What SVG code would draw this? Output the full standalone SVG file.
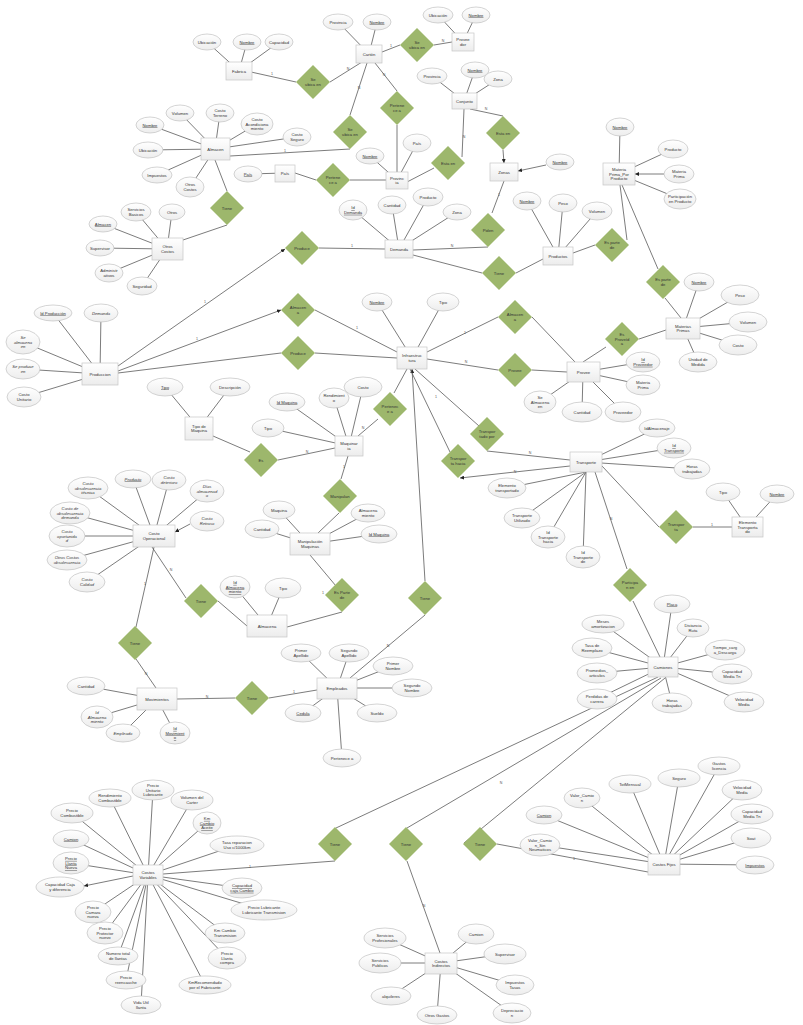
<svg xmlns="http://www.w3.org/2000/svg" width="803" height="1025" viewBox="0 0 803 1025">
<style>
.e{fill:url(#ge);stroke:#c6c6c6;stroke-width:.7}
.a{fill:url(#ga);stroke:#c2c2c2;stroke-width:.7}
.r{fill:#9db76c}
.c path{stroke:#5a5a5a;stroke-width:.8;fill:none}
text{font-family:"Liberation Sans",Arial,sans-serif;font-size:4.2px;fill:#333;text-anchor:middle}
.u{text-decoration:underline}
.i{font-style:italic}
.m{font-size:3.6px;fill:#555}
</style>
<defs>
<linearGradient id="ge" x1="0" y1="0" x2="0" y2="1"><stop offset="0" stop-color="#ffffff"/><stop offset="1" stop-color="#ececec"/></linearGradient>
<linearGradient id="ga" x1="0" y1="0" x2="0" y2="1"><stop offset="0" stop-color="#ffffff"/><stop offset="1" stop-color="#ededed"/></linearGradient>
<polygon id="d" points="0,-17 17,0 0,17 -17,0"/>
<marker id="ar" viewBox="0 0 6 6" refX="6" refY="3" markerWidth="4" markerHeight="4" orient="auto" markerUnits="userSpaceOnUse"><path d="M0,0L6,3L0,6z" fill="#222"/></marker>
</defs>
<rect width="803" height="1025" fill="#fff"/>

<g id="connectors" class="c">
<!-- attribute lines -->
<path d="M239 71L207 42M239 71L247 42M239 71L279 42"/>
<path d="M369 54L338 22M369 54L377 22"/>
<path d="M463 42L438 15M463 42L476 15"/>
<path d="M215 149L180 113M215 149L220 113M215 149L257 124M215 149L297 137M215 149L150 125M215 149L148 150M215 149L157 175M215 149L190 187"/>
<path d="M285 173L248 174"/>
<path d="M397 180L370 156M397 180L417 143"/>
<path d="M464 101L432 76M464 101L475 70M464 101L498 79"/>
<path d="M399 249L353 210M399 249L392 205M399 249L428 197M399 249L457 212"/>
<path d="M619 174L620 127M619 174L673 149M619 174L680 199"/>
<path d="M558 256L527 201M558 256L563 203M558 256L597 211"/>
<path d="M167 249L136 212M167 249L172 212M167 249L103 224M167 249L100 248M167 249L109 273M167 249L142 286"/>
<path d="M100 374L53 313M100 374L101 313M100 374L23 342M100 374L23 369M100 374L24 397"/>
<path d="M412 358L377 302M412 358L443 302"/>
<path d="M683 328L699 282M683 328L740 295M683 328L748 322M683 328L738 345M683 328L698 362"/>
<path d="M583 372L643 362M583 372L643 385M583 372L540 402M583 372L582 412M583 372L623 412"/>
<path d="M199 428L165 387M199 428L230 387"/>
<path d="M349 446L287 402M349 446L334 398M349 446L363 387M349 446L268 428"/>
<path d="M586 462L657 428M586 462L674 448M586 462L692 469M586 472L507 488M586 472L522 518M586 472L548 537M586 472L583 557"/>
<path d="M747 527L723 492M747 527L777 494"/>
<path d="M154 536L88 488M154 536L133 479M154 536L169 480M154 536L207 491M154 536L70 513M154 536L67 536M154 536L67 560M154 536L87 582"/>
<path d="M310 544L279 510M310 544L262 529M310 544L368 513M310 544L379 534"/>
<path d="M267 626L235 587M267 626L283 588"/>
<path d="M157 699L86 686M157 699L97 717M157 699L123 733M157 699L175 733"/>
<path d="M337 688L301 653M337 688L349 653M337 688L393 666M337 688L412 688M337 688L377 713M337 688L303 713M337 688L342 758"/>
<path d="M663 667L672 604M663 667L693 628M663 667L725 650M663 667L732 674M663 667L744 702M663 667L672 703M663 667L597 699M663 667L597 673M663 667L592 648M663 667L603 624"/>
<path d="M148 875L153 790M148 875L110 798M148 875L192 800M148 875L72 813M148 875L207 823M148 875L71 839M148 875L237 845M148 875L71 863M148 875L242 888M148 875L264 910M148 875L93 912M148 875L105 933M148 875L225 933M148 875L118 956M148 875L227 958M148 875L126 980M148 875L205 985M148 875L141 1005"/>
<path d="M441 963L385 938M441 963L380 963M441 963L391 996M441 963L437 1015M441 963L476 934M441 963L505 954M441 963L515 985M441 963L512 1013"/>
<path d="M664 864L544 815M664 864L582 798M664 864L630 784M664 864L679 778M664 864L719 766M664 864L742 790M664 864L752 814M664 864L751 838M664 864L755 865M664 864L540 845"/>
<path d="M546 165L518 171" marker-end="url(#ar)"/>
<path d="M664 174L635 174" marker-end="url(#ar)"/>
<path d="M190 524L175 532" marker-end="url(#ar)"/>
<path d="M133 876L84 886" marker-end="url(#ar)"/>
<!-- relationship lines -->
<path d="M251 72L296 82M330 82L362 62"/>
<path d="M382 52L400 45M434 45L452 42"/>
<path d="M375 63L397 91M397 125L397 172"/>
<path d="M367 63L350 115M350 149L230 156"/>
<path d="M215 160L227 191M227 225L183 240"/>
<path d="M295 173L316 180M350 180L386 180"/>
<path d="M407 182L434 168M464 109L462 157"/>
<path d="M470 109L503 116"/>
<path d="M503 150L504 163" marker-end="url(#ar)"/>
<path d="M504 181L492 213M488 247L413 250"/>
<path d="M118 366L285 249" marker-end="url(#ar)"/>
<path d="M319 248L385 249"/>
<path d="M413 255L482 273M516 273L543 259"/>
<path d="M573 253L595 245M627 240L620 185"/>
<path d="M622 185L658 269M665 298L681 318"/>
<path d="M583 362L606 347M639 339L666 330"/>
<path d="M427 352L498 317M532 317L575 362"/>
<path d="M427 359L498 370M532 370L567 372"/>
<path d="M118 371L281 310" marker-end="url(#ar)"/>
<path d="M315 310L397 352"/>
<path d="M118 373L281 353M315 353L397 358"/>
<path d="M358 436L378 419M394 393L407 369"/>
<path d="M213 436L250 452M278 460L335 448"/>
<path d="M348 456L341 479M339 513L318 533"/>
<path d="M310 555L336 586M342 612L287 627"/>
<path d="M425 581L412 369" marker-end="url(#ar)"/>
<path d="M425 615L350 678"/>
<path d="M415 369L479 426M487 451L570 460"/>
<path d="M410 369L450 452"/>
<path d="M570 466L460 478" marker-end="url(#ar)"/>
<path d="M602 466L659 527M693 527L732 527"/>
<path d="M595 472L627 569M633 601L660 657"/>
<path d="M152 547L186 598M218 601L247 626"/>
<path d="M154 547L136 627M136 659L156 688"/>
<path d="M177 699L235 698M269 698L317 690"/>
<path d="M658 677L336 828M335 861L163 874"/>
<path d="M661 678L407 828M407 861L440 953"/>
<path d="M665 678L464 843M497 844L648 872"/>
<!-- cardinality marks -->
<text class="m" x="272" y="75">1</text>
<text class="m" x="348" y="70">N</text>
<text class="m" x="391" y="47">1</text>
<text class="m" x="443" y="42">N</text>
<text class="m" x="384" y="76">N</text>
<text class="m" x="359" y="89">N</text>
<text class="m" x="285" y="152">1</text>
<text class="m" x="352" y="247">1</text>
<text class="m" x="452" y="247">N</text>
<text class="m" x="499" y="196">1</text>
<text class="m" x="486" y="110">N</text>
<text class="m" x="464" y="138">N</text>
<text class="m" x="205" y="303">1</text>
<text class="m" x="197" y="340">1</text>
<text class="m" x="357" y="329">1</text>
<text class="m" x="465" y="334">1</text>
<text class="m" x="466" y="363">N</text>
<text class="m" x="363" y="429">N</text>
<text class="m" x="307" y="453">N</text>
<text class="m" x="344" y="468">1</text>
<text class="m" x="436" y="398">1</text>
<text class="m" x="530" y="454">N</text>
<text class="m" x="515" y="473">N</text>
<text class="m" x="611" y="520">N</text>
<text class="m" x="712" y="526">1</text>
<text class="m" x="171" y="571">N</text>
<text class="m" x="145" y="585">1</text>
<text class="m" x="146" y="675">N</text>
<text class="m" x="207" y="698">N</text>
<text class="m" x="294" y="693">1</text>
<text class="m" x="388" y="647">N</text>
<text class="m" x="323" y="594">1</text>
<text class="m" x="250" y="868">1</text>
<text class="m" x="424" y="907">N</text>
<text class="m" x="574" y="860">1</text>
<text class="m" x="501" y="784">N</text>
</g>

<g id="relationships">
<g id="r-ubica1"><use href="#d" class="r" x="313" y="82"/><text x="313" y="81.2">Se<tspan x="313" dy="4.6">ubica en</tspan></text></g>
<g id="r-ubica2"><use href="#d" class="r" x="417" y="45"/><text x="417" y="44.2">Se<tspan x="417" dy="4.6">ubica en</tspan></text></g>
<g id="r-pertenece1"><use href="#d" class="r" x="397" y="108"/><text x="397" y="107.2">Pertene<tspan x="397" dy="4.6">ce a</tspan></text></g>
<g id="r-ubica3"><use href="#d" class="r" x="350" y="132"/><text x="350" y="131.2">Se<tspan x="350" dy="4.6">ubica en</tspan></text></g>
<g id="r-tiene1"><use href="#d" class="r" x="227" y="208"/><text x="227" y="209.5">Tiene</text></g>
<g id="r-pertenece2"><use href="#d" class="r" x="333" y="180"/><text x="333" y="179.2">Pertene<tspan x="333" dy="4.6">ce a</tspan></text></g>
<g id="r-esta1"><use href="#d" class="r" x="448" y="163"/><text x="448" y="164.5">Esta en</text></g>
<g id="r-esta2"><use href="#d" class="r" x="503" y="133"/><text x="503" y="134.5">Esta en</text></g>
<g id="r-piden"><use href="#d" class="r" x="488" y="230"/><text x="488" y="231.5">Piden</text></g>
<g id="r-produce1"><use href="#d" class="r" x="302" y="248"/><text x="302" y="249.5">Produce</text></g>
<g id="r-tiene2"><use href="#d" class="r" x="499" y="273"/><text x="499" y="274.5">Tiene</text></g>
<g id="r-parte1"><use href="#d" class="r" x="612" y="245"/><text x="612" y="244.2">Es parte<tspan x="612" dy="4.6">de</tspan></text></g>
<g id="r-parte2"><use href="#d" class="r" x="663" y="282"/><text x="663" y="281.2">Es parte<tspan x="663" dy="4.6">de</tspan></text></g>
<g id="r-proveida"><use href="#d" class="r" x="622" y="339"/><text x="622" y="335.9">Es<tspan x="622" dy="4.6">Proveíd</tspan><tspan x="622" dy="4.6">a</tspan></text></g>
<g id="r-almacena1"><use href="#d" class="r" x="515" y="317"/><text x="515" y="316.2">Almacen<tspan x="515" dy="4.6">a</tspan></text></g>
<g id="r-provee"><use href="#d" class="r" x="515" y="370"/><text x="515" y="371.5">Provee</text></g>
<g id="r-almacena2"><use href="#d" class="r" x="298" y="310"/><text x="298" y="309.2">Almacen<tspan x="298" dy="4.6">a</tspan></text></g>
<g id="r-produce2"><use href="#d" class="r" x="298" y="353"/><text x="298" y="354.5">Produce</text></g>
<g id="r-pertenece3"><use href="#d" class="r" x="390" y="409"/><text x="390" y="408.2">Pertenec<tspan x="390" dy="4.6">e a</tspan></text></g>
<g id="r-es"><use href="#d" class="r" x="261" y="460"/><text x="261" y="461.5">Es</text></g>
<g id="r-manipulan"><use href="#d" class="r" x="340" y="496"/><text x="340" y="497.5">Manipulan</text></g>
<g id="r-parte3"><use href="#d" class="r" x="342" y="595"/><text x="342" y="594.2">Es Parte<tspan x="342" dy="4.6">de</tspan></text></g>
<g id="r-tiene3"><use href="#d" class="r" x="425" y="598"/><text x="425" y="599.5">Tiene</text></g>
<g id="r-transportado"><use href="#d" class="r" x="487" y="434"/><text x="487" y="433.2">Transpor<tspan x="487" dy="4.6">tado por</tspan></text></g>
<g id="r-hacia"><use href="#d" class="r" x="458" y="461"/><text x="458" y="460.2">Transpor<tspan x="458" dy="4.6">ta hacia</tspan></text></g>
<g id="r-transporta"><use href="#d" class="r" x="676" y="527"/><text x="676" y="526.2">Transpor<tspan x="676" dy="4.6">ta</tspan></text></g>
<g id="r-participan"><use href="#d" class="r" x="630" y="585"/><text x="630" y="584.2">Participa<tspan x="630" dy="4.6">n en</tspan></text></g>
<g id="r-tiene4"><use href="#d" class="r" x="201" y="601"/><text x="201" y="602.5">Tiene</text></g>
<g id="r-tiene5"><use href="#d" class="r" x="135" y="643"/><text x="135" y="644.5">Tiene</text></g>
<g id="r-tiene6"><use href="#d" class="r" x="252" y="698"/><text x="252" y="699.5">Tiene</text></g>
<g id="r-tiene7"><use href="#d" class="r" x="335" y="844"/><text x="335" y="845.5">Tiene</text></g>
<g id="r-tiene8"><use href="#d" class="r" x="406" y="844"/><text x="406" y="845.5">Tiene</text></g>
<g id="r-tiene9"><use href="#d" class="r" x="480" y="844"/><text x="480" y="845.5">Tiene</text></g>
</g>

<g id="entities">
<g id="e-fabrica"><rect class="e" x="226" y="62" width="26" height="18"/><text x="239" y="72.5">Fabrica</text></g>
<g id="e-carton"><rect class="e" x="356" y="45" width="26" height="18"/><text x="369" y="55.5">Cartón</text></g>
<g id="e-proveedor"><rect class="e" x="452" y="33" width="22" height="18"/><text x="463" y="41.2">Provee<tspan x="463" dy="4.6">dor</tspan></text></g>
<g id="e-almacen"><rect class="e" x="201" y="138" width="29" height="22"/><text x="215.5" y="150.5">Almacen</text></g>
<g id="e-pais"><rect class="e" x="275" y="165" width="20" height="17"/><text x="285" y="175">País</text></g>
<g id="e-provincia"><rect class="e" x="386" y="172" width="22" height="17"/><text x="397" y="179.7">Provinc<tspan x="397" dy="4.6">ia</tspan></text></g>
<g id="e-conjunto"><rect class="e" x="452" y="93" width="25" height="16"/><text x="464.5" y="102.5">Conjunto</text></g>
<g id="e-zonas"><rect class="e" x="490" y="163" width="28" height="18"/><text x="504" y="173.5">Zonas</text></g>
<g id="e-demanda"><rect class="e" x="385" y="240" width="28" height="18"/><text x="399" y="250.5">Demanda</text></g>
<g id="e-mppp"><rect class="e" x="603" y="163" width="32" height="22"/><text x="619" y="170.9">Materia<tspan x="619" dy="4.6">Prima_Por</tspan><tspan x="619" dy="4.6">Producto</tspan></text></g>
<g id="e-productos"><rect class="e" x="543" y="247" width="30" height="18"/><text x="558" y="257.5">Productos</text></g>
<g id="e-otroscostos"><rect class="e" x="152" y="238" width="31" height="22"/><text x="167.5" y="248.2">Otros<tspan x="167.5" dy="4.6">Costos</tspan></text></g>
<g id="e-produccion"><rect class="e" x="82" y="363" width="36" height="22"/><text x="100" y="375.5">Produccion</text></g>
<g id="e-infraestructura"><rect class="e" x="397" y="347" width="30" height="22"/><text x="412" y="357.2">Infraestruc<tspan x="412" dy="4.6">tura</tspan></text></g>
<g id="e-materias"><rect class="e" x="666" y="318" width="34" height="21"/><text x="683" y="327.7">Materias<tspan x="683" dy="4.6">Primas</tspan></text></g>
<g id="e-provee"><rect class="e" x="567" y="362" width="33" height="20"/><text x="583.5" y="373.5">Provee</text></g>
<g id="e-tipomaquina"><rect class="e" x="185" y="417" width="28" height="23"/><text x="199" y="427.7">Tipo de<tspan x="199" dy="4.6">Maquina</tspan></text></g>
<g id="e-maquinaria"><rect class="e" x="335" y="436" width="28" height="20"/><text x="349" y="445.2">Maquinar<tspan x="349" dy="4.6">ia</tspan></text></g>
<g id="e-transporte"><rect class="e" x="570" y="452" width="32" height="20"/><text x="586" y="463.5">Transporte</text></g>
<g id="e-elemento"><rect class="e" x="732" y="517" width="31" height="20"/><text x="747.5" y="523.9">Elemento<tspan x="747.5" dy="4.6">Transporta</tspan><tspan x="747.5" dy="4.6">do</tspan></text></g>
<g id="e-costoop"><rect class="e" x="133" y="525" width="42" height="22"/><text x="154" y="535.2">Costo<tspan x="154" dy="4.6">Operacional</tspan></text></g>
<g id="e-manipulacion"><rect class="e" x="290" y="533" width="40" height="22"/><text x="310" y="543.2">Manipulación<tspan x="310" dy="4.6">Maquinas</tspan></text></g>
<g id="e-almacena"><rect class="e" x="247" y="615" width="40" height="22"/><text x="267" y="627.5">Almacena</text></g>
<g id="e-movimientos"><rect class="e" x="137" y="688" width="40" height="22"/><text x="157" y="700.5">Movimientos</text></g>
<g id="e-empleados"><rect class="e" x="317" y="678" width="40" height="21"/><text x="337" y="690">Empleados</text></g>
<g id="e-camiones"><rect class="e" x="648" y="657" width="30" height="20"/><text x="663" y="668.5">Camiones</text></g>
<g id="e-cvariables"><rect class="e" x="133" y="865" width="30" height="20"/><text x="148" y="874.2">Costos<tspan x="148" dy="4.6">Variables</tspan></text></g>
<g id="e-cindirectos"><rect class="e" x="425" y="953" width="32" height="21"/><text x="441" y="962.7">Costos<tspan x="441" dy="4.6">Indirectos</tspan></text></g>
<g id="e-cfijos"><rect class="e" x="648" y="854" width="32" height="21"/><text x="664" y="866">Costos Fijos</text></g>
</g>

<g id="attributes">
<g id="a1"><ellipse class="a" cx="207" cy="42" rx="14" ry="8"/><text x="207" y="43.5">Ubicación</text></g>
<g id="a2"><ellipse class="a" cx="247" cy="42" rx="14" ry="8"/><text class="u" x="247" y="43.5">Nombre</text></g>
<g id="a3"><ellipse class="a" cx="279" cy="42" rx="14" ry="8"/><text x="279" y="43.5">Capacidad</text></g>
<g id="a4"><ellipse class="a" cx="338" cy="22" rx="15" ry="8"/><text x="338" y="23.5">Provincia</text></g>
<g id="a5"><ellipse class="a" cx="377" cy="22" rx="14" ry="8"/><text class="u" x="377" y="23.5">Nombre</text></g>
<g id="a6"><ellipse class="a" cx="438" cy="15" rx="15" ry="8"/><text x="438" y="16.5">Ubicación</text></g>
<g id="a7"><ellipse class="a" cx="476" cy="15" rx="14" ry="8"/><text class="u" x="476" y="16.5">Nombre</text></g>
<g id="a8"><ellipse class="a" cx="180" cy="113" rx="14" ry="8"/><text x="180" y="114.5">Volumen</text></g>
<g id="a9"><ellipse class="a" cx="220" cy="113" rx="14" ry="9"/><text x="220" y="112.2">Costo<tspan x="220" dy="4.6">Terreno</tspan></text></g>
<g id="a10"><ellipse class="a" cx="257" cy="124" rx="16" ry="11"/><text x="257" y="120.9">Costo<tspan x="257" dy="4.6">Acondiciona</tspan><tspan x="257" dy="4.6">miento</tspan></text></g>
<g id="a11"><ellipse class="a" cx="297" cy="137" rx="14" ry="9"/><text x="297" y="136.2">Costo<tspan x="297" dy="4.6">Seguro</tspan></text></g>
<g id="a12"><ellipse class="a" cx="150" cy="125" rx="14" ry="8"/><text class="u" x="150" y="126.5">Nombre</text></g>
<g id="a13"><ellipse class="a" cx="148" cy="150" rx="15" ry="8"/><text x="148" y="151.5">Ubicación</text></g>
<g id="a14"><ellipse class="a" cx="157" cy="175" rx="15" ry="8"/><text x="157" y="176.5">Impuestos</text></g>
<g id="a15"><ellipse class="a" cx="190" cy="187" rx="14" ry="10"/><text x="190" y="186.2">Otros<tspan x="190" dy="4.6">Costos</tspan></text></g>
<g id="a16"><ellipse class="a" cx="248" cy="174" rx="14" ry="8"/><text class="u" x="248" y="175.5">País</text></g>
<g id="a17"><ellipse class="a" cx="370" cy="156" rx="14" ry="8"/><text class="u" x="370" y="157.5">Nombre</text></g>
<g id="a18"><ellipse class="a" cx="417" cy="143" rx="14" ry="9"/><text x="417" y="144.5">País</text></g>
<g id="a19"><ellipse class="a" cx="432" cy="76" rx="15" ry="8"/><text x="432" y="77.5">Provincia</text></g>
<g id="a20"><ellipse class="a" cx="475" cy="70" rx="14" ry="8"/><text class="u" x="475" y="71.5">Nombre</text></g>
<g id="a21"><ellipse class="a" cx="498" cy="79" rx="14" ry="8"/><text x="498" y="80.5">Zona</text></g>
<g id="a22"><ellipse class="a" cx="560" cy="162" rx="14" ry="8"/><text class="u" x="560" y="163.5">Nombre</text></g>
<g id="a23"><ellipse class="a" cx="353" cy="210" rx="14" ry="10"/><text class="u" x="353" y="209.2">Id<tspan x="353" dy="4.6">Demanda</tspan></text></g>
<g id="a24"><ellipse class="a" cx="392" cy="205" rx="14" ry="9"/><text x="392" y="206.5">Cantidad</text></g>
<g id="a25"><ellipse class="a" cx="428" cy="197" rx="15" ry="9"/><text x="428" y="198.5">Producto</text></g>
<g id="a26"><ellipse class="a" cx="457" cy="212" rx="14" ry="8"/><text x="457" y="213.5">Zona</text></g>
<g id="a27"><ellipse class="a" cx="620" cy="127" rx="14" ry="9"/><text class="u" x="620" y="128.5">Nombre</text></g>
<g id="a28"><ellipse class="a" cx="673" cy="149" rx="15" ry="9"/><text x="673" y="150.5">Producto</text></g>
<g id="a29"><ellipse class="a" cx="679" cy="174" rx="15" ry="9"/><text x="679" y="173.2">Materia<tspan x="679" dy="4.6">Prima</tspan></text></g>
<g id="a30"><ellipse class="a" cx="680" cy="199" rx="16" ry="10"/><text x="680" y="198.2">Participación<tspan x="680" dy="4.6">en Producto</tspan></text></g>
<g id="a31"><ellipse class="a" cx="527" cy="201" rx="14" ry="9"/><text class="u" x="527" y="202.5">Nombre</text></g>
<g id="a32"><ellipse class="a" cx="563" cy="203" rx="14" ry="9"/><text x="563" y="204.5">Peso</text></g>
<g id="a33"><ellipse class="a" cx="597" cy="211" rx="15" ry="9"/><text x="597" y="212.5">Volumen</text></g>
<g id="a34"><ellipse class="a" cx="136" cy="212" rx="15" ry="9"/><text x="136" y="211.2">Servicios<tspan x="136" dy="4.6">Basicos</tspan></text></g>
<g id="a35"><ellipse class="a" cx="172" cy="212" rx="13" ry="8"/><text x="172" y="213.5">Otros</text></g>
<g id="a36"><ellipse class="a" cx="103" cy="224" rx="14" ry="8"/><text class="u" x="103" y="225.5">Almacen</text></g>
<g id="a37"><ellipse class="a" cx="100" cy="248" rx="14" ry="8"/><text x="100" y="249.5">Supervisor</text></g>
<g id="a38"><ellipse class="a" cx="109" cy="273" rx="14" ry="9"/><text x="109" y="272.2">Administr<tspan x="109" dy="4.6">ativos</tspan></text></g>
<g id="a39"><ellipse class="a" cx="142" cy="286" rx="15" ry="9"/><text x="142" y="287.5">Seguridad</text></g>
<g id="a40"><ellipse class="a" cx="53" cy="313" rx="19" ry="8"/><text class="u" x="53" y="314.5">Id Producción</text></g>
<g id="a41"><ellipse class="a" cx="101" cy="313" rx="17" ry="9"/><text class="i" x="101" y="314.5">Demanda</text></g>
<g id="a42"><ellipse class="a" cx="23" cy="342" rx="17" ry="12"/><text class="i" x="23" y="338.9">Se<tspan x="23" dy="4.6">almacena</tspan><tspan x="23" dy="4.6">en</tspan></text></g>
<g id="a43"><ellipse class="a" cx="23" cy="369" rx="17" ry="10"/><text class="i" x="23" y="368.2">Se produce<tspan x="23" dy="4.6">en</tspan></text></g>
<g id="a44"><ellipse class="a" cx="24" cy="397" rx="17" ry="10"/><text x="24" y="396.2">Costo<tspan x="24" dy="4.6">Unitario</tspan></text></g>
<g id="a45"><ellipse class="a" cx="377" cy="302" rx="15" ry="9"/><text class="u" x="377" y="303.5">Nombre</text></g>
<g id="a46"><ellipse class="a" cx="443" cy="302" rx="16" ry="9"/><text x="443" y="303.5">Tipo</text></g>
<g id="a47"><ellipse class="a" cx="699" cy="282" rx="15" ry="9"/><text class="u" x="699" y="283.5">Nombre</text></g>
<g id="a48"><ellipse class="a" cx="740" cy="295" rx="19" ry="10"/><text x="740" y="296.5">Peso</text></g>
<g id="a49"><ellipse class="a" cx="748" cy="322" rx="19" ry="10"/><text x="748" y="323.5">Volumen</text></g>
<g id="a50"><ellipse class="a" cx="738" cy="345" rx="19" ry="10"/><text x="738" y="346.5">Costo</text></g>
<g id="a51"><ellipse class="a" cx="698" cy="362" rx="19" ry="10"/><text x="698" y="361.2">Unidad de<tspan x="698" dy="4.6">Medida</tspan></text></g>
<g id="a52"><ellipse class="a" cx="643" cy="362" rx="17" ry="10"/><text class="u" x="643" y="361.2">Id<tspan x="643" dy="4.6">Proveedor</tspan></text></g>
<g id="a53"><ellipse class="a" cx="643" cy="385" rx="17" ry="10"/><text x="643" y="384.2">Materia<tspan x="643" dy="4.6">Prima</tspan></text></g>
<g id="a54"><ellipse class="a" cx="540" cy="402" rx="16" ry="11"/><text x="540" y="398.9">Se<tspan x="540" dy="4.6">Almacena</tspan><tspan x="540" dy="4.6">en</tspan></text></g>
<g id="a55"><ellipse class="a" cx="582" cy="412" rx="20" ry="10"/><text x="582" y="413.5">Cantidad</text></g>
<g id="a56"><ellipse class="a" cx="623" cy="412" rx="18" ry="10"/><text x="623" y="413.5">Proveedor</text></g>
<g id="a57"><ellipse class="a" cx="165" cy="387" rx="18" ry="9"/><text class="u" x="165" y="388.5">Tipo</text></g>
<g id="a58"><ellipse class="a" cx="230" cy="387" rx="20" ry="9"/><text x="230" y="388.5">Descripción</text></g>
<g id="a59"><ellipse class="a" cx="287" cy="402" rx="18" ry="9"/><text class="u" x="287" y="403.5">Id Maquina</text></g>
<g id="a60"><ellipse class="a" cx="334" cy="398" rx="15" ry="10"/><text x="334" y="397.2">Rendimient<tspan x="334" dy="4.6">o</tspan></text></g>
<g id="a61"><ellipse class="a" cx="363" cy="387" rx="19" ry="10"/><text x="363" y="388.5">Costo</text></g>
<g id="a62"><ellipse class="a" cx="268" cy="428" rx="16" ry="9"/><text x="268" y="429.5">Tipo</text></g>
<g id="a63"><ellipse class="a" cx="657" cy="428" rx="18" ry="9"/><text x="657" y="429.5">IdAlmacenaje</text></g>
<g id="a64"><ellipse class="a" cx="674" cy="448" rx="17" ry="10"/><text class="u" x="674" y="447.2">Id<tspan x="674" dy="4.6">Transporte</tspan></text></g>
<g id="a65"><ellipse class="a" cx="692" cy="469" rx="18" ry="10"/><text x="692" y="468.2">Horas<tspan x="692" dy="4.6">trabajadas</tspan></text></g>
<g id="a66"><ellipse class="a" cx="507" cy="488" rx="19" ry="10"/><text x="507" y="487.2">Elemento<tspan x="507" dy="4.6">transportado</tspan></text></g>
<g id="a67"><ellipse class="a" cx="522" cy="518" rx="18" ry="10"/><text x="522" y="517.2">Transporte<tspan x="522" dy="4.6">Utilizado</tspan></text></g>
<g id="a68"><ellipse class="a" cx="548" cy="537" rx="17" ry="11"/><text x="548" y="533.9">Id<tspan x="548" dy="4.6">Transporte</tspan><tspan x="548" dy="4.6">hacia</tspan></text></g>
<g id="a69"><ellipse class="a" cx="583" cy="557" rx="17" ry="11"/><text x="583" y="553.9">Id<tspan x="583" dy="4.6">Transporte</tspan><tspan x="583" dy="4.6">de</tspan></text></g>
<g id="a70"><ellipse class="a" cx="723" cy="492" rx="17" ry="9"/><text x="723" y="493.5">Tipo</text></g>
<g id="a71"><ellipse class="a" cx="777" cy="494" rx="17" ry="9"/><text class="u" x="777" y="495.5">Nombre</text></g>
<g id="a72"><ellipse class="a" cx="88" cy="488" rx="20" ry="11"/><text class="i" x="88" y="484.9">Costo<tspan x="88" dy="4.6">obsolescencia</tspan><tspan x="88" dy="4.6">técnica</tspan></text></g>
<g id="a73"><ellipse class="a" cx="133" cy="479" rx="18" ry="9"/><text class="u i" x="133" y="480.5">Producto</text></g>
<g id="a74"><ellipse class="a" cx="169" cy="480" rx="17" ry="10"/><text class="i" x="169" y="479.2">Costo<tspan x="169" dy="4.6">deterioro</tspan></text></g>
<g id="a75"><ellipse class="a" cx="207" cy="491" rx="17" ry="11"/><text class="i" x="207" y="487.9">Días<tspan x="207" dy="4.6">almacenad</tspan><tspan x="207" dy="4.6">o</tspan></text></g>
<g id="a76"><ellipse class="a" cx="207" cy="521" rx="17" ry="10"/><text class="i" x="207" y="520.2">Costo<tspan x="207" dy="4.6">Retraso</tspan></text></g>
<g id="a77"><ellipse class="a" cx="70" cy="513" rx="20" ry="11"/><text class="i" x="70" y="509.9">Costo de<tspan x="70" dy="4.6">obsolescencia</tspan><tspan x="70" dy="4.6">demanda</tspan></text></g>
<g id="a78"><ellipse class="a" cx="67" cy="536" rx="18" ry="11"/><text class="i" x="67" y="532.9">Costo<tspan x="67" dy="4.6">oportunida</tspan><tspan x="67" dy="4.6">d</tspan></text></g>
<g id="a79"><ellipse class="a" cx="67" cy="560" rx="20" ry="10"/><text class="i" x="67" y="559.2">Otros Costos<tspan x="67" dy="4.6">obsolescencia</tspan></text></g>
<g id="a80"><ellipse class="a" cx="87" cy="582" rx="18" ry="10"/><text class="i" x="87" y="581.2">Costo<tspan x="87" dy="4.6">Calidad</tspan></text></g>
<g id="a81"><ellipse class="a" cx="279" cy="510" rx="16" ry="9"/><text x="279" y="511.5">Maquina</text></g>
<g id="a82"><ellipse class="a" cx="262" cy="529" rx="17" ry="9"/><text x="262" y="530.5">Cantidad</text></g>
<g id="a83"><ellipse class="a" cx="368" cy="513" rx="17" ry="9"/><text x="368" y="512.2">Almacena<tspan x="368" dy="4.6">miento</tspan></text></g>
<g id="a84"><ellipse class="a" cx="379" cy="534" rx="18" ry="9"/><text class="u" x="379" y="535.5">Id Maquina</text></g>
<g id="a85"><ellipse class="a" cx="235" cy="587" rx="15" ry="11"/><text class="u" x="235" y="583.9">Id<tspan x="235" dy="4.6">Almacena</tspan><tspan x="235" dy="4.6">miento</tspan></text></g>
<g id="a86"><ellipse class="a" cx="283" cy="588" rx="18" ry="10"/><text x="283" y="589.5">Tipo</text></g>
<g id="a87"><ellipse class="a" cx="86" cy="686" rx="19" ry="9"/><text x="86" y="687.5">Cantidad</text></g>
<g id="a88"><ellipse class="a" cx="97" cy="717" rx="16" ry="11"/><text class="i" x="97" y="713.9">Id<tspan x="97" dy="4.6">Almacena</tspan><tspan x="97" dy="4.6">miento</tspan></text></g>
<g id="a89"><ellipse class="a" cx="123" cy="733" rx="17" ry="9"/><text class="i" x="123" y="734.5">Empleado</text></g>
<g id="a90"><ellipse class="a" cx="175" cy="733" rx="15" ry="11"/><text class="u" x="175" y="729.9">Id<tspan x="175" dy="4.6">Movimient</tspan><tspan x="175" dy="4.6">o</tspan></text></g>
<g id="a91"><ellipse class="a" cx="301" cy="653" rx="20" ry="9"/><text x="301" y="652.2">Primer<tspan x="301" dy="4.6">Apellido</tspan></text></g>
<g id="a92"><ellipse class="a" cx="349" cy="653" rx="20" ry="9"/><text x="349" y="652.2">Segundo<tspan x="349" dy="4.6">Apellido</tspan></text></g>
<g id="a93"><ellipse class="a" cx="393" cy="666" rx="20" ry="9"/><text x="393" y="665.2">Primer<tspan x="393" dy="4.6">Nombre</tspan></text></g>
<g id="a94"><ellipse class="a" cx="412" cy="688" rx="20" ry="9"/><text x="412" y="687.2">Segundo<tspan x="412" dy="4.6">Nombre</tspan></text></g>
<g id="a95"><ellipse class="a" cx="377" cy="713" rx="20" ry="9"/><text x="377" y="714.5">Sueldo</text></g>
<g id="a96"><ellipse class="a" cx="303" cy="713" rx="18" ry="9"/><text class="u" x="303" y="714.5">Cedula</text></g>
<g id="a97"><ellipse class="a" cx="342" cy="758" rx="19" ry="9"/><text x="342" y="759.5">Pertenece a</text></g>
<g id="a98"><ellipse class="a" cx="672" cy="604" rx="18" ry="9"/><text class="u" x="672" y="605.5">Placa</text></g>
<g id="a99"><ellipse class="a" cx="693" cy="628" rx="16" ry="9"/><text x="693" y="627.2">Distancia<tspan x="693" dy="4.6">Ruta</tspan></text></g>
<g id="a100"><ellipse class="a" cx="725" cy="650" rx="20" ry="10"/><text x="725" y="649.2">Tiempo_carg<tspan x="725" dy="4.6">a_Descarga</tspan></text></g>
<g id="a101"><ellipse class="a" cx="732" cy="674" rx="20" ry="10"/><text x="732" y="673.2">Capacidad<tspan x="732" dy="4.6">Media Tn</tspan></text></g>
<g id="a102"><ellipse class="a" cx="744" cy="702" rx="20" ry="10"/><text x="744" y="701.2">Velocidad<tspan x="744" dy="4.6">Media</tspan></text></g>
<g id="a103"><ellipse class="a" cx="672" cy="703" rx="20" ry="10"/><text x="672" y="702.2">Horas<tspan x="672" dy="4.6">trabajadas</tspan></text></g>
<g id="a104"><ellipse class="a" cx="597" cy="699" rx="20" ry="10"/><text x="597" y="698.2">Perdidas de<tspan x="597" dy="4.6">carrera</tspan></text></g>
<g id="a105"><ellipse class="a" cx="597" cy="673" rx="20" ry="10"/><text x="597" y="672.2">Promedios_<tspan x="597" dy="4.6">articulos</tspan></text></g>
<g id="a106"><ellipse class="a" cx="592" cy="648" rx="20" ry="10"/><text x="592" y="647.2">Tasa de<tspan x="592" dy="4.6">Reemplazo</tspan></text></g>
<g id="a107"><ellipse class="a" cx="603" cy="624" rx="21" ry="9"/><text x="603" y="623.2">Meses<tspan x="603" dy="4.6">amortizacion</tspan></text></g>
<g id="a108"><ellipse class="a" cx="153" cy="790" rx="21" ry="10"/><text x="153" y="786.9">Precio<tspan x="153" dy="4.6">Unitario</tspan><tspan x="153" dy="4.6">Lubricante</tspan></text></g>
<g id="a109"><ellipse class="a" cx="110" cy="798" rx="21" ry="9"/><text x="110" y="797.2">Rendimiento<tspan x="110" dy="4.6">Combustible</tspan></text></g>
<g id="a110"><ellipse class="a" cx="192" cy="800" rx="21" ry="10"/><text x="192" y="799.2">Volumen del<tspan x="192" dy="4.6">Carter</tspan></text></g>
<g id="a111"><ellipse class="a" cx="72" cy="813" rx="21" ry="10"/><text x="72" y="812.2">Precio<tspan x="72" dy="4.6">Combustible</tspan></text></g>
<g id="a112"><ellipse class="a" cx="207" cy="823" rx="14" ry="11"/><text class="u" x="207" y="819.9">Km<tspan x="207" dy="4.6">Cambio</tspan><tspan x="207" dy="4.6">Aceite</tspan></text></g>
<g id="a113"><ellipse class="a" cx="71" cy="839" rx="18" ry="9"/><text class="u" x="71" y="840.5">Camion</text></g>
<g id="a114"><ellipse class="a" cx="237" cy="845" rx="27" ry="9"/><text x="237" y="844.2">Tasa reparacion<tspan x="237" dy="4.6">Uso c/1000km</tspan></text></g>
<g id="a115"><ellipse class="a" cx="71" cy="863" rx="18" ry="11"/><text class="u" x="71" y="859.9">Precio<tspan x="71" dy="4.6">Llanta</tspan><tspan x="71" dy="4.6">Nueva</tspan></text></g>
<g id="a116"><ellipse class="a" cx="60" cy="887" rx="24" ry="10"/><text x="60" y="886.2">Capacidad Caja<tspan x="60" dy="4.6">y diferencia</tspan></text></g>
<g id="a117"><ellipse class="a" cx="242" cy="888" rx="20" ry="10"/><text class="u" x="242" y="887.2">Capacidad<tspan x="242" dy="4.6">caja Cambio</tspan></text></g>
<g id="a118"><ellipse class="a" cx="264" cy="910" rx="33" ry="10"/><text x="264" y="909.2">Precio Lubricante<tspan x="264" dy="4.6">Lubricante Transmision</tspan></text></g>
<g id="a119"><ellipse class="a" cx="93" cy="912" rx="18" ry="11"/><text x="93" y="908.9">Precio<tspan x="93" dy="4.6">Camara</tspan><tspan x="93" dy="4.6">nueva</tspan></text></g>
<g id="a120"><ellipse class="a" cx="105" cy="933" rx="18" ry="11"/><text x="105" y="929.9">Precio<tspan x="105" dy="4.6">Protector</tspan><tspan x="105" dy="4.6">nuevo</tspan></text></g>
<g id="a121"><ellipse class="a" cx="225" cy="933" rx="20" ry="10"/><text x="225" y="932.2">Km Cambio<tspan x="225" dy="4.6">Transmision</tspan></text></g>
<g id="a122"><ellipse class="a" cx="118" cy="956" rx="20" ry="9"/><text x="118" y="955.2">Numero total<tspan x="118" dy="4.6">de llantas</tspan></text></g>
<g id="a123"><ellipse class="a" cx="227" cy="958" rx="19" ry="11"/><text x="227" y="954.9">Precio<tspan x="227" dy="4.6">Llanta</tspan><tspan x="227" dy="4.6">compra</tspan></text></g>
<g id="a124"><ellipse class="a" cx="126" cy="980" rx="20" ry="9"/><text x="126" y="979.2">Precio<tspan x="126" dy="4.6">reencauche</tspan></text></g>
<g id="a125"><ellipse class="a" cx="205" cy="985" rx="26" ry="9"/><text x="205" y="984.2">KmRecomendado<tspan x="205" dy="4.6">por el Fabricante</tspan></text></g>
<g id="a126"><ellipse class="a" cx="141" cy="1005" rx="20" ry="9"/><text x="141" y="1004.2">Vida Util<tspan x="141" dy="4.6">llanta</tspan></text></g>
<g id="a127"><ellipse class="a" cx="385" cy="938" rx="21" ry="10"/><text x="385" y="937.2">Servicios<tspan x="385" dy="4.6">Profesionales</tspan></text></g>
<g id="a128"><ellipse class="a" cx="380" cy="963" rx="21" ry="10"/><text x="380" y="962.2">Servicios<tspan x="380" dy="4.6">Publicos</tspan></text></g>
<g id="a129"><ellipse class="a" cx="391" cy="996" rx="20" ry="9"/><text x="391" y="997.5">alquileres</text></g>
<g id="a130"><ellipse class="a" cx="437" cy="1015" rx="20" ry="9"/><text x="437" y="1016.5">Otros Gastos</text></g>
<g id="a131"><ellipse class="a" cx="476" cy="934" rx="18" ry="10"/><text x="476" y="935.5">Camion</text></g>
<g id="a132"><ellipse class="a" cx="505" cy="954" rx="21" ry="10"/><text x="505" y="955.5">Supervisor</text></g>
<g id="a133"><ellipse class="a" cx="515" cy="985" rx="19" ry="10"/><text x="515" y="984.2">Impuestos<tspan x="515" dy="4.6">Tasas</tspan></text></g>
<g id="a134"><ellipse class="a" cx="512" cy="1013" rx="19" ry="10"/><text x="512" y="1012.2">Depreciacio<tspan x="512" dy="4.6">n</tspan></text></g>
<g id="a135"><ellipse class="a" cx="544" cy="815" rx="18" ry="9"/><text class="u" x="544" y="816.5">Camion</text></g>
<g id="a136"><ellipse class="a" cx="582" cy="798" rx="18" ry="10"/><text x="582" y="797.2">Valor_Camio<tspan x="582" dy="4.6">n</tspan></text></g>
<g id="a137"><ellipse class="a" cx="630" cy="784" rx="21" ry="9"/><text x="630" y="785.5">TotMensual</text></g>
<g id="a138"><ellipse class="a" cx="679" cy="778" rx="21" ry="9"/><text x="679" y="779.5">Seguro</text></g>
<g id="a139"><ellipse class="a" cx="719" cy="766" rx="21" ry="9"/><text x="719" y="765.2">Gastos<tspan x="719" dy="4.6">licencia</tspan></text></g>
<g id="a140"><ellipse class="a" cx="742" cy="790" rx="20" ry="10"/><text x="742" y="789.2">Velocidad<tspan x="742" dy="4.6">Media</tspan></text></g>
<g id="a141"><ellipse class="a" cx="752" cy="814" rx="21" ry="10"/><text x="752" y="813.2">Capacidad<tspan x="752" dy="4.6">Media Tn</tspan></text></g>
<g id="a142"><ellipse class="a" cx="751" cy="838" rx="20" ry="10"/><text x="751" y="839.5">Soat</text></g>
<g id="a143"><ellipse class="a" cx="755" cy="865" rx="19" ry="9"/><text class="u" x="755" y="866.5">Impuestos</text></g>
<g id="a144"><ellipse class="a" cx="540" cy="845" rx="20" ry="11"/><text x="540" y="841.9">Valor_Camio<tspan x="540" dy="4.6">n_Sin</tspan><tspan x="540" dy="4.6">Neumaticos</tspan></text></g>
</g>
</svg>
